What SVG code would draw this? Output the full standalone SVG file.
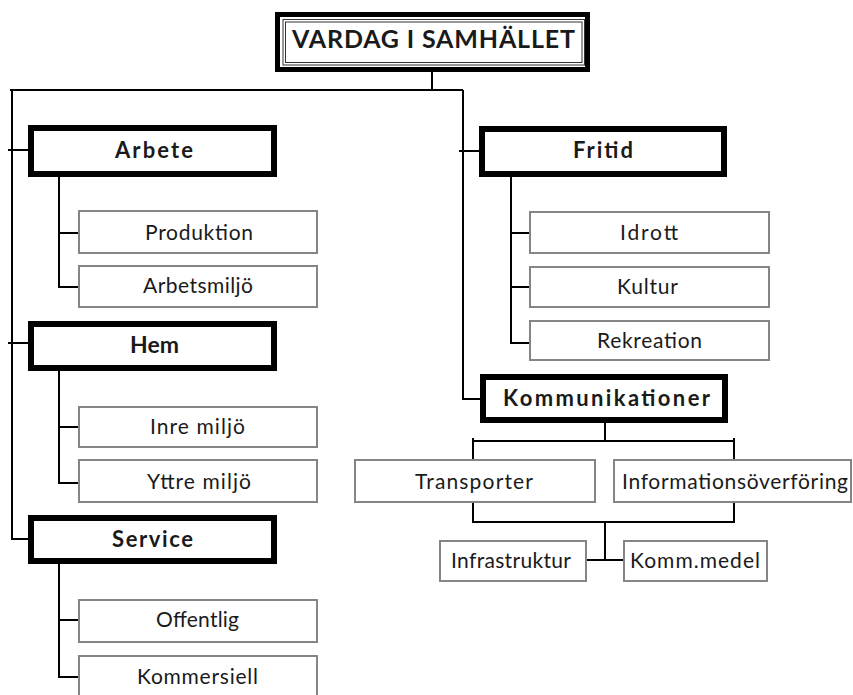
<svg xmlns="http://www.w3.org/2000/svg" width="853" height="695" viewBox="0 0 853 695">
<style>
text{font-family:Lato,"Liberation Sans",sans-serif;fill:#1a1a1a;text-anchor:middle}
.h{font-weight:bold;font-size:22px}
.t{font-size:21px}
.main{fill:#fff;stroke:#000;stroke-width:6}
.sub{fill:#fff;stroke:#858585;stroke-width:2}
#connectors line{stroke:#000;stroke-width:2}
</style>
<rect width="853" height="695" fill="#fff"/>
<g id="connectors">
<line x1="432" y1="72" x2="432" y2="90"/>
<line x1="10" y1="90" x2="463" y2="90"/>
<line x1="12" y1="90" x2="12" y2="540"/>
<line x1="463" y1="90" x2="463" y2="400"/>
<line x1="8" y1="150" x2="28" y2="150"/>
<line x1="8" y1="343" x2="28" y2="343"/>
<line x1="11" y1="539" x2="28" y2="539"/>
<line x1="459" y1="151" x2="479" y2="151"/>
<line x1="462" y1="399" x2="480" y2="399"/>
<line x1="59" y1="177" x2="59" y2="288"/>
<line x1="58" y1="233" x2="78" y2="233"/>
<line x1="58" y1="287" x2="78" y2="287"/>
<line x1="59" y1="371" x2="59" y2="484"/>
<line x1="58" y1="427" x2="78" y2="427"/>
<line x1="58" y1="483" x2="78" y2="483"/>
<line x1="59" y1="564" x2="59" y2="678"/>
<line x1="58" y1="620" x2="78" y2="620"/>
<line x1="58" y1="677" x2="78" y2="677"/>
<line x1="511" y1="177" x2="511" y2="344"/>
<line x1="510" y1="233" x2="529" y2="233"/>
<line x1="510" y1="287" x2="529" y2="287"/>
<line x1="510" y1="343" x2="529" y2="343"/>
<line x1="605" y1="423" x2="605" y2="441"/>
<line x1="473" y1="441" x2="735" y2="441"/>
<line x1="473" y1="438" x2="473" y2="459"/>
<line x1="734" y1="438" x2="734" y2="459"/>
<line x1="473" y1="503" x2="473" y2="523"/>
<line x1="734" y1="503" x2="734" y2="523"/>
<line x1="472" y1="522" x2="735" y2="522"/>
<line x1="605" y1="522" x2="605" y2="560"/>
<line x1="587" y1="560" x2="623" y2="560"/>
</g>
<g id="root">
<rect x="277.5" y="14.5" width="310" height="55" fill="#fff" stroke="#000" stroke-width="5"/>
<rect x="283" y="19.5" width="301.5" height="45.5" fill="none" stroke="#333" stroke-width="1"/>
<rect x="285.5" y="22" width="296.5" height="40.5" fill="none" stroke="#333" stroke-width="1"/>
<text x="433.5" y="48" style="font-weight:bold;font-size:25px" textLength="283">VARDAG I SAMHÄLLET</text>
</g>
<g id="arbete"><rect class="main" x="31" y="128" width="243" height="46"/><text class="h" x="154" y="158" textLength="78">Arbete</text></g>
<g id="produktion"><rect class="sub" x="79" y="211" width="238" height="42"/><text class="t" x="199" y="240" textLength="108">Produktion</text></g>
<g id="arbetsmiljo"><rect class="sub" x="79" y="266" width="238" height="41"/><text class="t" x="198" y="293" textLength="110">Arbetsmiljö</text></g>
<g id="hem"><rect class="main" x="31" y="324" width="243" height="44"/><text class="h" x="154.5" y="353" style="font-size:23px">Hem</text></g>
<g id="inremiljo"><rect class="sub" x="79" y="407" width="238" height="40"/><text class="t" x="197.5" y="434" textLength="95">Inre miljö</text></g>
<g id="yttremiljo"><rect class="sub" x="79" y="460" width="238" height="42"/><text class="t" x="199" y="489" textLength="104">Yttre miljö</text></g>
<g id="service"><rect class="main" x="31" y="518" width="243" height="43"/><text class="h" x="152.5" y="547" textLength="81">Service</text></g>
<g id="offentlig"><rect class="sub" x="79" y="600" width="238" height="42"/><text class="t" x="197.5" y="627" textLength="83">Offentlig</text></g>
<g id="kommersiell"><rect class="sub" x="79" y="656" width="238" height="42"/><text class="t" x="197.5" y="684" textLength="121">Kommersiell</text></g>
<g id="fritid"><rect class="main" x="482" y="129" width="242" height="45"/><text class="h" x="603" y="158" textLength="60">Fritid</text></g>
<g id="idrott"><rect class="sub" x="530" y="212" width="239" height="41"/><text class="t" x="649" y="240" textLength="58">Idrott</text></g>
<g id="kultur"><rect class="sub" x="530" y="267" width="239" height="40"/><text class="t" x="647.5" y="294" textLength="61">Kultur</text></g>
<g id="rekreation"><rect class="sub" x="530" y="321" width="239" height="39"/><text class="t" x="649.5" y="348" textLength="105">Rekreation</text></g>
<g id="kommunikationer"><rect class="main" x="483" y="377" width="242" height="43"/><text class="h" x="606.5" y="406" textLength="207">Kommunikationer</text></g>
<g id="transporter"><rect class="sub" x="355" y="460" width="240" height="42"/><text class="t" x="474" y="489" textLength="118">Transporter</text></g>
<g id="informationsoverforing"><rect class="sub" x="614" y="460" width="237" height="42"/><text class="t" x="735" y="489" textLength="226">Informationsöverföring</text></g>
<g id="infrastruktur"><rect class="sub" x="440" y="541" width="146" height="40"/><text class="t" x="511" y="568" textLength="120">Infrastruktur</text></g>
<g id="kommmedel"><rect class="sub" x="624" y="541" width="143" height="40"/><text class="t" x="695" y="568" textLength="130">Komm.medel</text></g>
</svg>
